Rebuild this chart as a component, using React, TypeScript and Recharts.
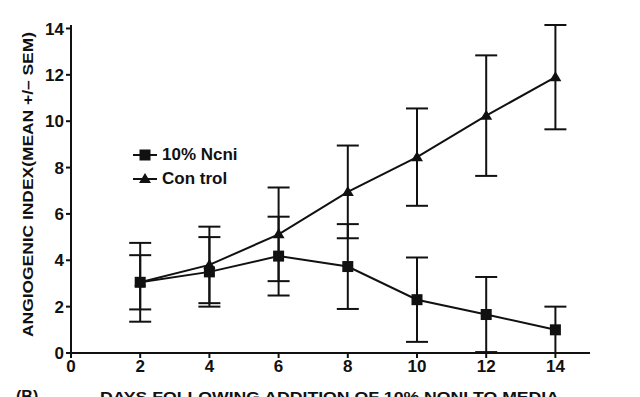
import { LineChart, Line, XAxis, YAxis, ErrorBar, Legend, Label } from 'recharts';

const days = [2, 4, 6, 8, 10, 12, 14];
const noni = [3.05, 3.5, 4.18, 3.73, 2.3, 1.66, 1.0];
const noniErr = [1.17, 1.5, 1.7, 1.83, 1.82, 1.62, 1.0];
const control = [3.05, 3.8, 5.12, 6.95, 8.45, 10.24, 11.9];
const controlErr = [1.7, 1.65, 2.02, 2.0, 2.1, 2.6, 2.25];

const xTicks = [0, 2, 4, 6, 8, 10, 12, 14];
const yTicks = [0, 2, 4, 6, 8, 10, 12, 14];

const font = '"Liberation Sans", Arial, sans-serif';

const data = days.map((d, i) => ({
  day: d,
  noni: noni[i],
  noniErr: noniErr[i],
  control: control[i],
  controlErr: controlErr[i],
}));

const Square = (props: any) => {
  const { cx, cy, index } = props;
  return <rect key={`s-${index}`} x={cx - 5.5} y={cy - 5.5} width={11} height={11} fill="#111" />;
};

const Triangle = (props: any) => {
  const { cx, cy, index } = props;
  return (
    <path
      key={`t-${index}`}
      d={`M${cx},${cy - 6} L${cx + 6},${cy + 4} L${cx - 6},${cy + 4} Z`}
      fill="#111"
    />
  );
};

function LegendBox() {
  const row = (label: string, square: boolean) => (
    <div style={{ display: 'flex', alignItems: 'center', height: 24 }}>
      <svg width={26} height={14}>
        <line x1={1} y1={7} x2={25} y2={7} stroke="#111" strokeWidth={2} />
        {square ? (
          <rect x={7.5} y={1.5} width={11} height={11} fill="#111" />
        ) : (
          <path d="M13,1 L19,11 L7,11 Z" fill="#111" />
        )}
      </svg>
      <span style={{ marginLeft: 4, fontFamily: font, fontWeight: 'bold', fontSize: 17, color: '#111' }}>
        {label}
      </span>
    </div>
  );
  return (
    <div>
      {row('10% Ncni', true)}
      {row('Con trol', false)}
    </div>
  );
}

export default function App() {
  return (
    <div style={{ position: 'absolute', left: 0, top: 0, width: 640, height: 397, background: '#fff' }}>
      <LineChart width={640} height={397} data={data} margin={{ top: 25, right: 50, bottom: 0, left: 0 }}>
        <XAxis
          dataKey="day"
          type="number"
          domain={[0, 15]}
          ticks={xTicks}
          allowDataOverflow
          axisLine={{ stroke: '#111', strokeWidth: 2 }}
          tickLine={{ stroke: '#111', strokeWidth: 2 }}
          tickSize={5}
          tick={{ fill: '#111', fontFamily: font, fontWeight: 'bold', fontSize: 17 }}
          height={44}
        >
          <Label
            content={() => (
              <g>
                <text x={16} y={402} fontFamily={font} fontWeight="bold" fontSize={16} fill="#111">
                  (B)
                </text>
                <text
                  x={100}
                  y={402}
                  fontFamily={font}
                  fontWeight="bold"
                  fontSize={15}
                  fill="#111"
                  textLength={459}
                  lengthAdjust="spacingAndGlyphs"
                >
                  DAYS FOLLOWING ADDITION OF 10% NONI TO MEDIA
                </text>
              </g>
            )}
          />
        </XAxis>
        <YAxis
          type="number"
          domain={[0, 14]}
          ticks={yTicks}
          width={71}
          axisLine={{ stroke: '#111', strokeWidth: 2 }}
          tickLine={{ stroke: '#111', strokeWidth: 2 }}
          tickSize={5}
          tick={{ fill: '#111', fontFamily: font, fontWeight: 'bold', fontSize: 17 }}
        >
          <Label
            content={() => (
              <text
                x={0}
                y={0}
                transform="translate(33,184.5) rotate(-90)"
                textAnchor="middle"
                fontFamily={font}
                fontWeight="bold"
                fontSize={14}
                fill="#111"
                textLength={305}
                lengthAdjust="spacingAndGlyphs"
              >
                ANGIOGENIC  INDEX(MEAN +/– SEM)
              </text>
            )}
          />
        </YAxis>
        <Legend
          verticalAlign="middle"
          align="center"
          layout="horizontal"
          wrapperStyle={{ left: 132, top: 143, width: 'auto' }}
          content={() => <LegendBox />}
        />
        <Line
          dataKey="noni"
          stroke="#111"
          strokeWidth={2}
          dot={Square}
          activeDot={false}
          isAnimationActive={false}
        >
          <ErrorBar dataKey="noniErr" width={11} stroke="#111" strokeWidth={2} isAnimationActive={false} />
        </Line>
        <Line
          dataKey="control"
          stroke="#111"
          strokeWidth={2}
          dot={Triangle}
          activeDot={false}
          isAnimationActive={false}
        >
          <ErrorBar dataKey="controlErr" width={11} stroke="#111" strokeWidth={2} isAnimationActive={false} />
        </Line>
      </LineChart>
    </div>
  );
}
